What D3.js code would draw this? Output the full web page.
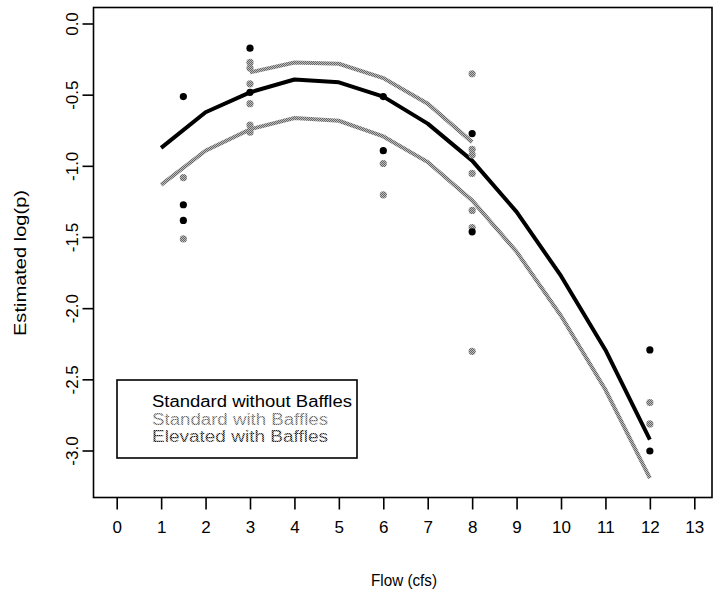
<!DOCTYPE html>
<html><head><meta charset="utf-8">
<script src="https://cdn.jsdelivr.net/npm/d3@7"></script>
<style>body{margin:0;background:#fff}svg{display:block}text{font-family:"Liberation Sans",Arial,sans-serif}</style>
</head><body><svg id="c" width="713" height="594"></svg>
<script>
const xTicks = [0,1,2,3,4,5,6,7,8,9,10,11,12,13];
const yTicks = [0.0,-0.5,-1.0,-1.5,-2.0,-2.5,-3.0];
const flowFit = [1,2,3,4,5,6,7,8,9,10,11,12];
const fitStdNo = [-0.87,-0.62,-0.48,-0.39,-0.41,-0.51,-0.70,-0.96,-1.32,-1.77,-2.29,-2.92];
const fitStdBaf = [-1.13,-0.89,-0.74,-0.66,-0.68,-0.79,-0.97,-1.24,-1.60,-2.05,-2.57,-3.19];
const flowElev = [3,4,5,6,7,8];
const fitElev = [-0.34,-0.27,-0.28,-0.38,-0.56,-0.83];
const ptsStdNoX = [1.5,1.5,1.5,3,3,6,6,8,8,12,12];
const ptsStdNoY = [-0.51,-1.27,-1.38,-0.17,-0.48,-0.51,-0.89,-0.77,-1.46,-2.29,-3.00];
const ptsStdBafX = [1.5,1.5,3,3,3,6,6,8,8,8,8,12,12];
const ptsStdBafY = [-1.08,-1.51,-0.56,-0.71,-0.76,-0.98,-1.20,-1.05,-1.31,-1.43,-2.30,-2.66,-2.81];
const ptsElevX = [3,3,3,8,8,8];
const ptsElevY = [-0.27,-0.31,-0.42,-0.35,-0.88,-0.92];
const legendLabels = ["Standard without Baffles","Standard with Baffles","Elevated with Baffles"];

const svg = d3.select("#c");
const L=93.5, R=712, T=7.5, B=497.5;
const x = d3.scaleLinear().domain([0,13]).range([116.7,694.3]);
const y = d3.scaleLinear().domain([0,-3]).range([24,451]);

const defs = svg.append("defs");
function dither(id, c1, c2){
  const p = defs.append("pattern").attr("id",id).attr("width",2).attr("height",2).attr("patternUnits","userSpaceOnUse");
  p.append("rect").attr("width",2).attr("height",2).attr("fill",c2);
  p.append("rect").attr("width",1).attr("height",1).attr("fill",c1);
  p.append("rect").attr("x",1).attr("y",1).attr("width",1).attr("height",1).attr("fill",c1);
}
dither("dGray","#666","#bdbdbd");
dither("dDark","#222","#999");

// axes
const xa = svg.append("g").attr("transform",`translate(0,${B})`)
  .call(d3.axisBottom(x).tickValues(xTicks).tickSize(12).tickPadding(10).tickFormat(d3.format("d")));
const ya = svg.append("g").attr("transform",`translate(${L},0)`)
  .call(d3.axisLeft(y).tickValues(yTicks).tickSize(11).tickPadding(0));
[xa,ya].forEach(a=>{a.select(".domain").remove();a.selectAll("line").attr("stroke","#000").attr("stroke-width",1.6);a.selectAll("text").attr("font-size",17).attr("fill","#000");});
xa.selectAll("text").attr("dy","0.8em");
ya.selectAll(".tick").attr("transform",null);
ya.selectAll(".tick line").attr("transform",d=>`translate(0,${y(d)})`);
ya.selectAll(".tick text").attr("text-anchor","middle").attr("x",0).attr("y",0).attr("dy","0.35em")
  .attr("transform",d=>`translate(${-21},${y(d)}) rotate(-90)`).text(d=>d.toFixed(1).replace("-0.0","0.0"));

svg.append("rect").attr("x",L).attr("y",T).attr("width",R-L).attr("height",B-T)
  .attr("fill","none").attr("stroke","#000").attr("stroke-width",1.6);

svg.append("text").attr("x",404).attr("y",586).attr("text-anchor","middle").attr("font-size",16.5)
  .attr("textLength",66).attr("lengthAdjust","spacingAndGlyphs").text("Flow (cfs)");
svg.append("text").attr("transform","translate(26,263) rotate(-90)").attr("text-anchor","middle")
  .attr("font-size",17).attr("textLength",146).attr("lengthAdjust","spacingAndGlyphs").text("Estimated log(p)");

const line = d3.line().x(d=>x(d[0])).y(d=>y(d[1]));
svg.append("path").datum(flowFit.map((f,i)=>[f,fitStdBaf[i]])).attr("d",line)
  .attr("fill","none").attr("stroke","url(#dGray)").attr("stroke-width",4);
svg.append("path").datum(flowElev.map((f,i)=>[f,fitElev[i]])).attr("d",line)
  .attr("fill","none").attr("stroke","url(#dGray)").attr("stroke-width",4);
svg.append("path").datum(flowFit.map((f,i)=>[f,fitStdNo[i]])).attr("d",line)
  .attr("fill","none").attr("stroke","#000").attr("stroke-width",4).attr("stroke-linejoin","round");

function pts(xs,ys,fill){
  svg.append("g").selectAll("circle").data(xs.map((v,i)=>[v,ys[i]])).join("circle")
    .attr("cx",d=>x(d[0])).attr("cy",d=>y(d[1])).attr("r",3.6).attr("fill",fill);
}
pts(ptsStdBafX,ptsStdBafY,"url(#dGray)");
pts(ptsElevX,ptsElevY,"url(#dGray)");
pts(ptsStdNoX,ptsStdNoY,"#000");

// legend
svg.append("rect").attr("x",117).attr("y",380).attr("width",240).attr("height",78)
  .attr("fill","#fff").attr("stroke","#000").attr("stroke-width",1.6);
const lc = ["#000","url(#dGray)","url(#dDark)"];
const lw = [200,176,176];
legendLabels.forEach((t,i)=>{
  svg.append("text").attr("x",152).attr("y",407+i*17.5).attr("font-size",16)
    .attr("textLength",lw[i]).attr("lengthAdjust","spacingAndGlyphs").attr("fill",lc[i]).text(t);
});
</script></body></html>
